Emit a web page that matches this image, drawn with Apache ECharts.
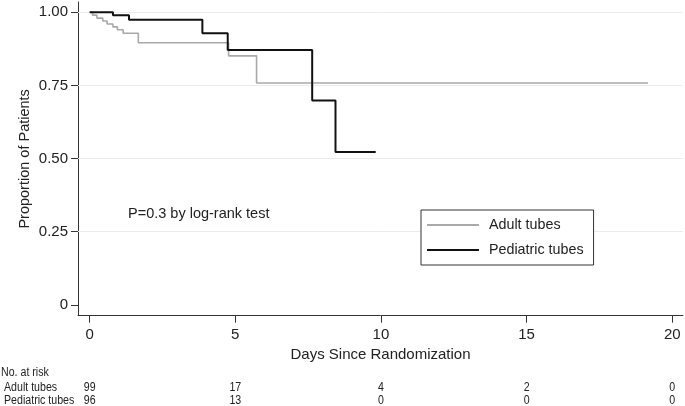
<!DOCTYPE html>
<html>
<head>
<meta charset="utf-8">
<script src="https://cdn.jsdelivr.net/npm/echarts@6/dist/echarts.min.js"></script>
<style>html,body{margin:0;padding:0;background:#fff;}#c{width:685px;height:406px;}</style>
</head>
<body>
<div id="c"></div>
<script>
// ---- data ----
var seriesNames = ['Adult tubes', 'Pediatric tubes'];
var adultTimes = [0, 0.1, 0.25, 0.45, 0.6, 0.8, 0.95, 1.15, 1.67, 4.77, 5.73, 19.17];
var adultSurv  = [1.0, 0.99, 0.98, 0.97, 0.96, 0.95, 0.94, 0.928, 0.896, 0.851, 0.758, 0.758];
var pedTimes   = [0, 0.80, 1.35, 3.87, 4.74, 7.64, 8.44, 9.82];
var pedSurv    = [1.0, 0.99, 0.974, 0.928, 0.871, 0.698, 0.522, 0.522];
var xTicks = [0, 5, 10, 15, 20];
var yTicks = [0, 0.25, 0.5, 0.75, 1.0];
var yTickLabels = ['0', '0.25', '0.50', '0.75', '1.00'];
var riskTimes = [0, 5, 10, 15, 20];
var riskAdult = [99, 17, 4, 2, 0];
var riskPed = [96, 13, 0, 0, 0];
var pText = 'P=0.3 by log-rank test';

var FONT = "'Liberation Sans', Arial, sans-serif";

function pairs(t, s) { return t.map(function (v, i) { return [v, s[i]]; }); }

var chart = echarts.init(document.getElementById('c'), null, {renderer: 'canvas'});
var option = {
  animation: false,
  backgroundColor: '#fff',
  grid: {left: 78, right: 2, top: 2, bottom: 90.3, containLabel: false},
  xAxis: {
    type: 'value', min: -0.4, max: 20.37,
    axisLine: {show: true, onZero: false, lineStyle: {color: '#333', width: 1}},
    axisTick: {show: true, length: 7, customValues: xTicks, lineStyle: {color: '#333'}},
    axisLabel: {customValues: xTicks, margin: 12, fontSize: 15, color: '#222', fontFamily: FONT},
    splitLine: {show: false},
    name: 'Days Since Randomization', nameLocation: 'middle', nameGap: 32, nameMoveOverlap: false,
    nameTextStyle: {fontSize: 15, color: '#222', fontFamily: FONT}
  },
  yAxis: {
    type: 'value', min: -0.037, max: 1.035,
    axisLine: {show: true, onZero: false, lineStyle: {color: '#333', width: 1}},
    axisTick: {show: true, length: 7, customValues: yTicks, lineStyle: {color: '#333'}},
    axisLabel: {customValues: yTicks, margin: 10, fontSize: 15, color: '#222', fontFamily: FONT,
      formatter: function (v) { var i = yTicks.indexOf(v); return i >= 0 ? yTickLabels[i] : ''; }},
    splitLine: {show: false},
    name: 'Proportion of Patients', nameLocation: 'middle', nameGap: 46, nameMoveOverlap: false,
    nameTextStyle: {fontSize: 14.5, color: '#222', fontFamily: FONT}
  },
  legend: {
    orient: 'vertical', left: 421, top: 210,
    padding: [8, 10, 8, 6], itemGap: 11, itemWidth: 52, itemHeight: 2,
    borderColor: '#333', borderWidth: 1, backgroundColor: '#fff',
    textStyle: {fontSize: 14.3, color: '#222', fontFamily: FONT, padding: [0, 0, 0, 5]},
    data: [{name: seriesNames[0], icon: 'rect'}, {name: seriesNames[1], icon: 'rect'}]
  },
  series: [
    {
      name: seriesNames[0], type: 'line', step: 'end', symbol: 'none', z: 3,
      data: pairs(adultTimes, adultSurv),
      lineStyle: {color: '#a9a9a9', width: 1.6}, itemStyle: {color: '#a9a9a9'},
      markLine: {
        silent: true, symbol: 'none', z: 1, animation: false,
        label: {show: false},
        lineStyle: {color: '#ebebeb', width: 1, type: 'solid'},
        data: yTicks.filter(function (v) { return v > 0; }).map(function (v) { return {yAxis: v}; })
      }
    },
    {
      name: seriesNames[1], type: 'line', step: 'end', symbol: 'none', z: 4,
      data: pairs(pedTimes, pedSurv),
      lineStyle: {color: '#111', width: 2}, itemStyle: {color: '#111'}
    }
  ]
};
chart.setOption(option);

// risk table & annotation as text graphics, positioned through the x axis scale
var SX = 0.85;
function small(txt, x, y, align) {
  return {type: 'text', x: x, y: y, scaleX: SX,
    style: {text: txt, fontSize: 12.5, fill: '#222', fontFamily: FONT, align: align || 'left', verticalAlign: 'middle'}};
}
var g = [];
g.push({type: 'text', left: 128, top: 206, style: {text: pText, fontSize: 14.5, fill: '#222', fontFamily: FONT}});
g.push(small('No. at risk', 1, 373));
g.push(small(seriesNames[0], 4, 388));
g.push(small(seriesNames[1], 4, 401));
riskTimes.forEach(function (t, i) {
  var px = chart.convertToPixel({xAxisIndex: 0}, t);
  g.push(small(String(riskAdult[i]), px, 388, 'center'));
  g.push(small(String(riskPed[i]), px, 401, 'center'));
});
chart.setOption({graphic: g});
</script>
</body>
</html>
